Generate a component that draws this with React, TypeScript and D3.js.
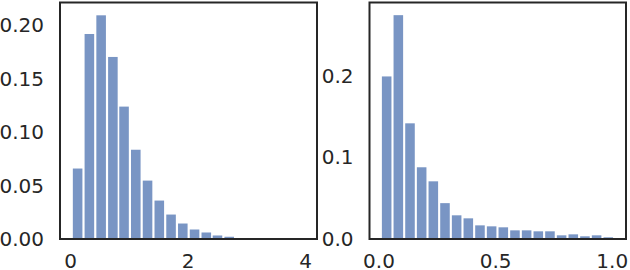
import React, { useEffect, useRef } from 'react'
import * as d3 from 'd3'

// left panel: bin centers and heights
const leftBins = [0.13, 0.33, 0.53, 0.73, 0.92, 1.12, 1.32, 1.52, 1.72, 1.92, 2.12, 2.32, 2.51, 2.71, 2.91, 3.11, 3.31, 3.51, 3.71, 3.91]
const leftValues = [0.066, 0.192, 0.2095, 0.1705, 0.124, 0.0836, 0.0547, 0.036, 0.0229, 0.0145, 0.0089, 0.0061, 0.0033, 0.0021, 0.0008, 0.0004, 0.0002, 0.0001, 0, 0.0001]
const leftYTicks = [0, 0.05, 0.1, 0.15, 0.2]
const leftXTicks = [0, 2, 4]

// right panel: bin centers and heights
const rightBins = [0.035, 0.085, 0.135, 0.185, 0.235, 0.285, 0.335, 0.385, 0.435, 0.485, 0.535, 0.585, 0.635, 0.685, 0.735, 0.785, 0.835, 0.885, 0.935, 0.985]
const rightValues = [0.199, 0.274, 0.1416, 0.0878, 0.0706, 0.0439, 0.029, 0.0253, 0.0167, 0.0155, 0.0143, 0.0106, 0.0106, 0.0094, 0.0094, 0.0045, 0.0057, 0.0033, 0.0045, 0.0021]
const rightYTicks = [0, 0.1, 0.2]
const rightXTicks = [0, 0.5, 1.0]

interface PanelProps {
  bins: number[]
  values: number[]
  binWidth: number
  xDomain: [number, number]
  yMax: number
  xTicks: number[]
  yTicks: number[]
  xFmt: string
  yFmt: string
  left: number
  right: number
}

const TOP = 2.5
const BOTTOM = 239
const INK = '#262626'

const drawPanel = (svg: d3.Selection<SVGSVGElement, unknown, null, undefined>, p: PanelProps) => {
  const x = d3.scaleLinear().domain(p.xDomain).range([p.left, p.right])
  const y = d3.scaleLinear().domain([0, p.yMax]).range([BOTTOM, TOP])
  const bw = x(p.binWidth) - x(0)
  const barW = bw * 0.82

  const g = svg.append('g')
  g.selectAll('.bar')
    .data(p.bins)
    .enter()
    .append('rect')
    .attr('class', 'bar')
    .attr('fill', '#4C72B0')
    .attr('fill-opacity', 0.75)
    .attr('x', (d) => x(d) - barW / 2)
    .attr('width', barW)
    .attr('y', (d, i) => y(p.values[i]))
    .attr('height', (d, i) => BOTTOM - y(p.values[i]))

  const yAxis = g.append('g')
    .attr('transform', `translate(${p.left},0)`)
    .call(d3.axisLeft(y).tickValues(p.yTicks).tickSize(0).tickPadding(16).tickFormat(d3.format(p.yFmt)))
  const xAxis = g.append('g')
    .attr('transform', `translate(0,${BOTTOM})`)
    .call(d3.axisBottom(x).tickValues(p.xTicks).tickSize(0).tickPadding(15).tickFormat(d3.format(p.xFmt)))

  for (const ax of [yAxis, xAxis]) {
    ax.select('.domain').remove()
    ax.selectAll('text')
      .attr('font-family', 'DejaVu Sans')
      .attr('font-size', 20)
      .attr('fill', INK)
  }

  g.append('rect')
    .attr('x', p.left)
    .attr('y', TOP)
    .attr('width', p.right - p.left)
    .attr('height', BOTTOM - TOP)
    .attr('fill', 'none')
    .attr('stroke', INK)
    .attr('stroke-width', 2)
}

const App = () => {
  const ref = useRef<SVGSVGElement>(null)

  useEffect(() => {
    const svg = d3.select(ref.current as SVGSVGElement)
    svg.selectAll('*').remove()

    drawPanel(svg, {
      bins: leftBins,
      values: leftValues,
      binWidth: 0.1987,
      xDomain: [-0.17, 4.204],
      yMax: 0.2215,
      xTicks: leftXTicks,
      yTicks: leftYTicks,
      xFmt: 'd',
      yFmt: '.2f',
      left: 60,
      right: 317,
    })

    drawPanel(svg, {
      bins: rightBins,
      values: rightValues,
      binWidth: 0.05,
      xDomain: [-0.0386, 1.061],
      yMax: 0.2895,
      xTicks: rightXTicks,
      yTicks: rightYTicks,
      xFmt: '.1f',
      yFmt: '.1f',
      left: 369.5,
      right: 626,
    })
  }, [])

  return (
    <svg
      ref={ref}
      width={630}
      height={270}
      style={{ position: 'absolute', left: 0, top: 0, background: '#fff' }}
    />
  )
}

export default App
